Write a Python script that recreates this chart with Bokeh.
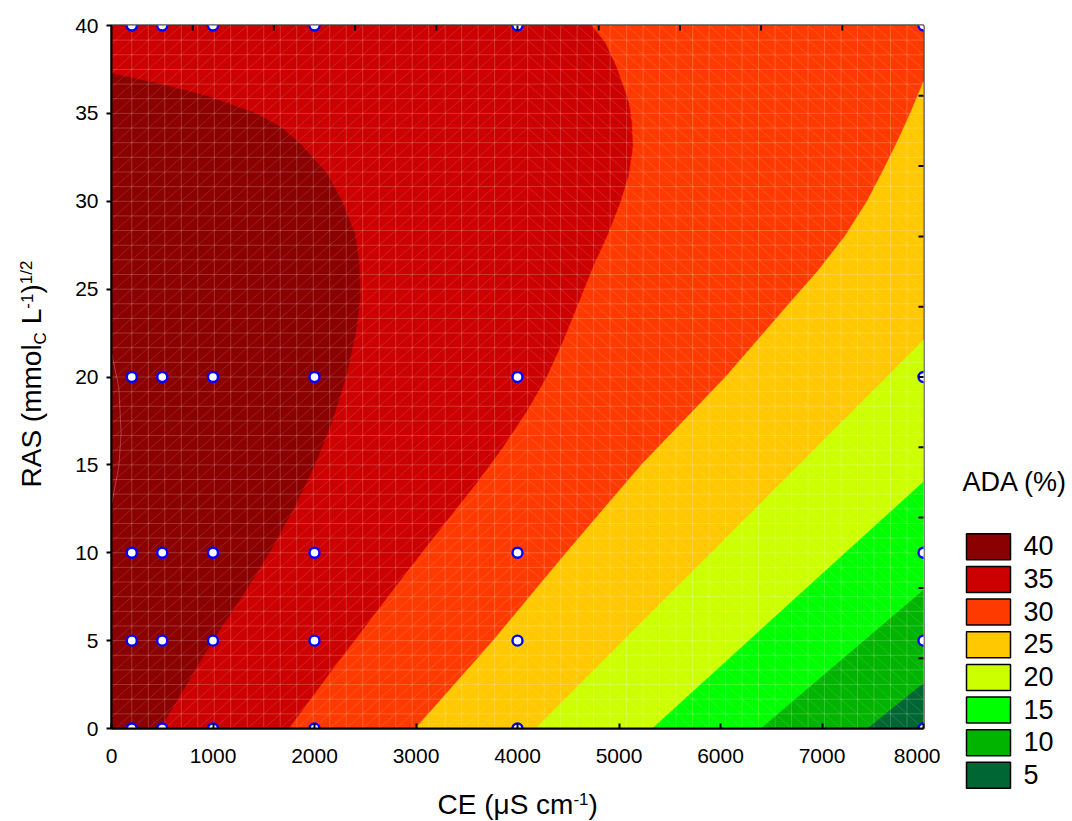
import numpy as np
from bokeh.plotting import figure
from bokeh.layouts import row, column
from bokeh.models import Range1d, FixedTicker, ColumnDataSource
from bokeh.core.properties import value
from bokeh.embed import file_html
from bokeh.resources import INLINE

FONT = "Liberation Sans"

# ---------------- values ----------------
ce_limits = [0, 8000]
ras_limits = [0, 40]
x_ticks = [0, 1000, 2000, 3000, 4000, 5000, 6000, 7000, 8000]
y_ticks = [0, 5, 10, 15, 20, 25, 30, 35, 40]
top_ticks = [800, 1600, 2400, 3200, 4000, 4800, 5600, 6400, 7200]
right_ticks = [4, 8, 12, 16, 20, 24, 28, 32, 36]

legend_title = "ADA (%)"
legend_labels = ["40", "35", "30", "25", "20", "15", "10", "5"]
band_colors = ["#8B0000", "#CC0000", "#FF3A00", "#FFC800",
               "#CCFF00", "#00FF00", "#00B400", "#006633"]

# contour boundaries (CE in uS/cm, RAS)
c40_ce = [485, 1000, 1290, 1560, 1800, 2010, 2180, 2315, 2410, 2455, 2445, 2400,
          2275, 2125, 1860, 1680, 1435, 950, 480, 0]
c40_ras = [0, 5, 7.5, 10, 12.5, 15, 17.5, 20, 22.5, 24.5, 26.5, 28.2,
           30, 31.6, 33.3, 34.2, 35.0, 36.0, 36.7, 37.3]
c35_ce = [1750, 2200, 2700, 3060, 3400, 3620, 3860, 4100, 4290, 4450, 4590, 4750,
          4900, 5020, 5100, 5140, 5130, 5097, 4982, 4870, 4736]
c35_ras = [0, 3.5, 7.3, 10, 12.5, 14.1, 16, 18.1, 20, 22, 24, 26.3,
           28.2, 30, 31.5, 33.1, 34.5, 35.7, 37.6, 39, 40]
c30_ce = [2995, 3760, 4480, 5220, 6050, 6650, 6955, 7225, 7445, 7625, 7760, 7870, 8000]
c30_ras = [0, 5, 10, 15, 20, 24, 26, 28, 30, 32, 33.6, 35, 36.8]
c25_ce = [4180, 5910, 7640, 8000]
c25_ras = [0, 10, 20, 22.1]
c20_ce = [5330, 6660, 8000]
c20_ras = [0, 7, 14.03]
c15_ce = [6400, 8000]
c15_ras = [0, 7.87]
c10_ce = [7450, 8000]
c10_ras = [0, 2.56]
# faint closed contour near the left edge
c45_ce = [0, 72, 95, 72, 0]
c45_ras = [21.4, 19.4, 16.8, 14.9, 12.7]

# experimental design points
pts_ce = [200, 200, 200, 200, 200,
          500, 500, 500, 500, 500,
          1000, 1000, 1000, 1000, 1000,
          2000, 2000, 2000, 2000, 2000,
          4000, 4000, 4000, 4000, 4000,
          8000, 8000, 8000, 8000, 8000]
pts_ras = [0, 5, 10, 20, 40] * 6

# ---------------- build band regions ----------------
X0, X1 = ce_limits
Y0, Y1 = ras_limits


def region_below(ce, ras):
    xs, ys = list(ce), list(ras)
    if xs[-1] <= X0:
        xs += [X0, X1]
        ys += [Y1, Y1]
    elif ys[-1] >= Y1:
        xs += [X1]
        ys += [Y1]
    xs += [X1]
    ys += [Y0]
    return xs, ys


contours = [(c40_ce, c40_ras), (c35_ce, c35_ras), (c30_ce, c30_ras), (c25_ce, c25_ras),
            (c20_ce, c20_ras), (c15_ce, c15_ras), (c10_ce, c10_ras)]
band_xs = [[X0, X1, X1, X0]]
band_ys = [[Y0, Y0, Y1, Y1]]
for ce, ras in contours:
    bx, by = region_below(ce, ras)
    band_xs.append(bx)
    band_ys.append(by)

# ---------------- main plot (page x 60..940, y 0..778) ----------------
PW, PH = 880, 778
BL, BR = 51, 17
p = figure(width=PW, height=PH, x_range=Range1d(X0, X1), y_range=Range1d(Y0, Y1),
           output_backend="svg", toolbar_location=None,
           min_border_left=BL, min_border_right=BR, min_border_top=25, min_border_bottom=50,
           outline_line_color="black", outline_line_width=2, border_fill_color="white")
p.grid.visible = False

src = ColumnDataSource(dict(xs=band_xs, ys=band_ys, color=band_colors))
p.patches("xs", "ys", source=src, fill_color="color", line_color="color", line_width=0.6)

# surface mesh (decoration of the fitted grid)
n = 48
mx0, mx1 = 200.0, 8000.0
du = (mx1 - mx0) / n
dv = (Y1 - Y0) / n
mesh_xs, mesh_ys = [], []
for k in range(n + 1):
    x = mx0 + k * du
    mesh_xs.append([x, x]); mesh_ys.append([Y0, Y1])
for j in range(n + 1):
    y = Y0 + j * dv
    mesh_xs.append([X0, X1]); mesh_ys.append([y, y])
p.multi_line(mesh_xs, mesh_ys, line_color="white", line_alpha=0.2, line_width=1)

diag_xs, diag_ys = [], []
umin = (X0 - mx0) / du
half = n // 2
for m in range(-half - 2, n + 1):
    ua, ub = max(umin, -m), min(half, n - m)
    if ub > ua:
        diag_xs.append([mx0 + ua * du, mx0 + ub * du])
        diag_ys.append([(ua + m) * dv, (ub + m) * dv])
for m in range(half, 2 * n + 1):
    ua, ub = max(half, m - n), min(n, m)
    if ub > ua:
        diag_xs.append([mx0 + ua * du, mx0 + ub * du])
        diag_ys.append([(m - ua) * dv, (m - ub) * dv])
p.multi_line(diag_xs, diag_ys, line_color="white", line_alpha=0.13, line_width=1)

p.line(c45_ce, c45_ras, line_color="white", line_alpha=0.25, line_width=1)

p.scatter(pts_ce, pts_ras, size=10, marker="circle", fill_color="white",
          line_color="#0000FF", line_width=2.4)

# inward ticks on the top and right frame edges
p.scatter(top_ticks, [Y1] * len(top_ticks), marker="dash", size=10, angle=np.pi / 2,
          line_color="black", line_width=2)
p.scatter([X1] * len(right_ticks), right_ticks, marker="dash", size=10,
          line_color="black", line_width=2)

for ax in p.xaxis:
    ax.ticker = FixedTicker(ticks=x_ticks)
    ax.major_tick_in = 5
    ax.major_tick_out = 0
    ax.major_label_standoff = 20
for ax in p.yaxis:
    ax.ticker = FixedTicker(ticks=y_ticks)
    ax.major_tick_in = 0
    ax.major_tick_out = 5
    ax.major_label_standoff = 8
for ax in list(p.xaxis) + list(p.yaxis):
    ax.minor_tick_line_color = None
    ax.axis_line_width = 2
    ax.major_tick_line_width = 2
    ax.axis_line_color = "black"
    ax.major_tick_line_color = "black"
    ax.major_label_text_font = FONT
    ax.major_label_text_font_size = "21px"
    ax.major_label_text_color = "black"


# ---------------- text panels (data coordinates = page pixels, y downward) ----------------
def panel(x0, x1, y0, y1, bl=0, br=0):
    w = int(round(x1 - x0)) + bl + br
    h = int(round(y1 - y0))
    f = figure(width=w, height=h, x_range=Range1d(x0, x1), y_range=Range1d(y1, y0),
               output_backend="svg", toolbar_location=None, min_border=0,
               min_border_left=bl, min_border_right=br,
               x_axis_type=None, y_axis_type=None, outline_line_color=None,
               border_fill_color="white", background_fill_color="white")
    f.grid.visible = False
    return f


KB = 0.39  # baseline correction (fraction of font size)


def put_text(f, pieces):
    # pieces: (text, page_x, page_y, size_px, angle) -- page_x/page_y = start of baseline
    xs, ys = [], []
    for t, px, py, s, a in pieces:
        if a == 0:
            py = py - KB * s
        else:
            px = px - KB * s
        xs.append(px)
        ys.append(py)
    d = dict(x=xs, y=ys, text=[pc[0] for pc in pieces],
             size=[f"{pc[3]}px" for pc in pieces], angle=[pc[4] for pc in pieces])
    f.text("x", "y", text="text", angle="angle", text_font_size="size",
           source=ColumnDataSource(d), text_font=value(FONT), text_color="black",
           text_baseline="alphabetic", text_align="left")


A = np.pi / 2
# y title panel: page x 0..60
yt = panel(0, 60, 0, 821)
put_text(yt, [
    ("RAS (mmol", 42, 487, 28, A),
    ("C", 47, 343.9, 17, A),
    ("L", 42, 323.8, 28, A),
    ("-1", 33, 308.2, 17, A),
    (")", 42, 293.1, 28, A),
    ("1/2", 33, 283.8, 17, A),
])

# x title panel: frame aligned with the main frame (page x 111..923), y 778..821
xt = panel(60 + BL, 60 + PW - BR, PH, 821, bl=BL, br=BR)
put_text(xt, [
    ("CE (\u03bcS cm", 437, 815, 28, 0.0),
    ("-1", 572.9, 805, 17, 0.0),
    (")", 588, 815, 28, 0.0),
])

# legend panel: page x 940..1072
lg = panel(940, 1072, 0, 821)
put_text(lg, [(legend_title, 962, 492, 27, 0.0)])
tops = [533.3 + 32.65 * i for i in range(len(legend_labels))]
lg.quad(left=[966] * len(tops), right=[1010] * len(tops),
        top=tops, bottom=[t + 26 for t in tops],
        fill_color=band_colors, line_color="black", line_width=1.5)
put_text(lg, [(lab, 1023, t + 22.7, 27, 0.0) for lab, t in zip(legend_labels, tops)])

layout = row(yt, column(p, xt), lg)
open("out.html", "w").write(file_html(layout, INLINE))
